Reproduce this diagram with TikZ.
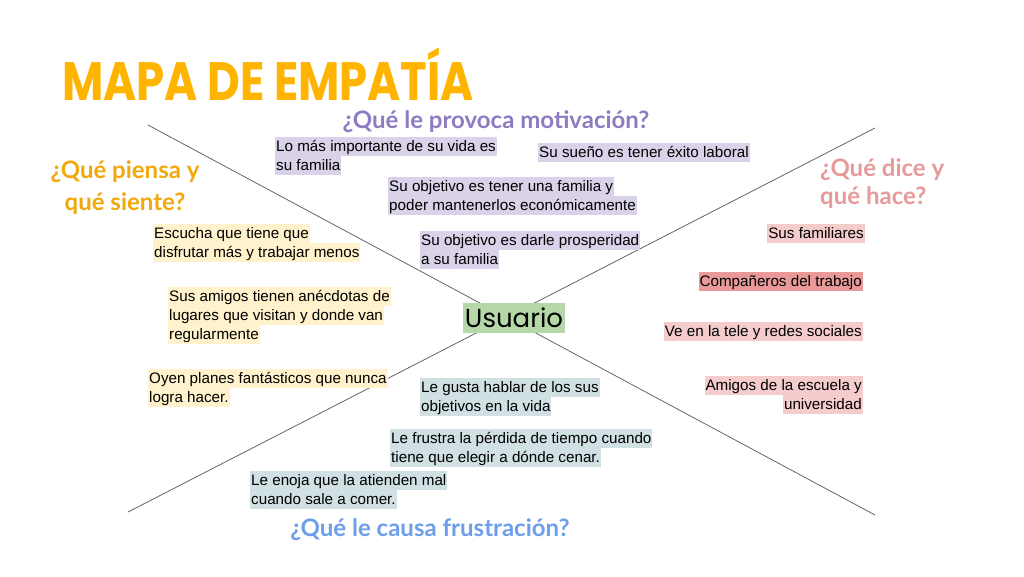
\documentclass[tikz,border=0pt]{standalone}
\usepackage{fontspec}
\setmainfont{Liberation Sans}
\newfontfamily\headfont{Lato}
\newfontfamily\titlefont{Poppins}
\usepackage{xcolor}

\definecolor{titleorange}{HTML}{FFB400}
\definecolor{thinkorange}{HTML}{F1A80A}
\definecolor{motivpurple}{HTML}{8E7CC3}
\definecolor{sayred}{HTML}{E69A9A}
\definecolor{frustblue}{HTML}{6D9EEB}
\definecolor{hlpurple}{HTML}{D9D2E9}
\definecolor{hlyellow}{HTML}{FFF2CC}
\definecolor{hlred}{HTML}{F4CCCC}
\definecolor{hlreddark}{HTML}{EA9999}
\definecolor{hlblue}{HTML}{D0E0E3}
\definecolor{hlgreen}{HTML}{B6D7A8}
\definecolor{crossgray}{HTML}{666666}

% one highlighted line of text
\newcommand{\hlbox}[2]{{\setlength{\fboxsep}{1pt}\colorbox{#1}{\rule[-3.5pt]{0pt}{17pt}#2}}}

\begin{document}
\begin{tikzpicture}[x=1pt, y=-1pt,
    note/.style={font=\fontsize{15.2}{19}\selectfont, inner sep=0pt, align=left, anchor=north west},
    noteright/.style={note, align=right, anchor=north east},
    heading/.style={font=\headfont\bfseries\fontsize{24}{32}\selectfont, inner sep=0pt, align=center}]
    % Canvas
    \fill[white] (0,0) rectangle (1024,576);
    \useasboundingbox (0,0) rectangle (1024,576);

    % Title
    \node[font=\titlefont\bfseries\fontsize{45}{50}\selectfont, text=titleorange, anchor=base west, inner sep=0pt] (title) at (62,100) {\scalebox{1}[1.2]{MAPA DE EMPATÍA}};

    % Draw the two crossing lines
    \coordinate (tl) at (148,125);
    \coordinate (br) at (875,515);
    \coordinate (tr) at (875,128);
    \coordinate (bl) at (128,512);
    \draw[crossgray, line width=0.8pt] (tl) -- (br);
    \draw[crossgray, line width=0.8pt] (tr) -- (bl);

    % Center
    \node[fill=hlgreen, font=\titlefont\fontsize{26}{30}\selectfont, minimum width=102pt, minimum height=30pt, inner sep=0pt] (usuario) at (514,318) {Usuario};

    % Headings
    \node[heading, text=motivpurple] (motiv) at (496,122) {¿Qué le provoca motivación?};
    \node[heading, text=thinkorange] (think) at (125,188) {¿Qué piensa y\\qué siente?};
    \node[heading, text=sayred, align=left, anchor=west, font=\headfont\bfseries\fontsize{24}{28}\selectfont] (say) at (820,184) {¿Qué dice y\\qué hace?};
    \node[heading, text=frustblue] (frust) at (430,530) {¿Qué le causa frustración?};

    % Motivation (top)
    \node[note] (mot1) at (275,136.5) {\hlbox{hlpurple}{Lo más importante de su vida es}\\\hlbox{hlpurple}{su familia}};
    \node[note] (mot2) at (538,142.5) {\hlbox{hlpurple}{Su sueño es tener éxito laboral}};
    \node[note] (mot3) at (388,176.5) {\hlbox{hlpurple}{Su objetivo es tener una familia y}\\\hlbox{hlpurple}{poder mantenerlos económicamente}};
    \node[note] (mot4) at (420,230.5) {\hlbox{hlpurple}{Su objetivo es darle prosperidad}\\\hlbox{hlpurple}{a su familia}};

    % Thinks and feels (left)
    \node[note] (thk1) at (153,223.5) {\hlbox{hlyellow}{Escucha que tiene que}\\\hlbox{hlyellow}{disfrutar más y trabajar menos}};
    \node[note] (thk2) at (168,286.5) {\hlbox{hlyellow}{Sus amigos tienen anécdotas de}\\\hlbox{hlyellow}{lugares que visitan y donde van}\\\hlbox{hlyellow}{regularmente}};
    \node[note] (thk3) at (148,368.5) {\hlbox{hlyellow}{Oyen planes fantásticos que nunca}\\\hlbox{hlyellow}{logra hacer.}};

    % Says and does (right)
    \node[noteright] (say1) at (865,223.5) {\hlbox{hlred}{Sus familiares}};
    \node[noteright] (say2) at (863,271.5) {\hlbox{hlreddark}{Compañeros del trabajo}};
    \node[noteright] (say3) at (863,321.5) {\hlbox{hlred}{Ve en la tele y redes sociales}};
    \node[noteright] (say4) at (863,375.5) {\hlbox{hlred}{Amigos de la escuela y}\\\hlbox{hlred}{universidad}};

    % Frustration (bottom)
    \node[note] (fru1) at (420,377.5) {\hlbox{hlblue}{Le gusta hablar de los sus}\\\hlbox{hlblue}{objetivos en la vida}};
    \node[note] (fru2) at (390,428.5) {\hlbox{hlblue}{Le frustra la pérdida de tiempo cuando}\\\hlbox{hlblue}{tiene que elegir a dónde cenar.}};
    \node[note] (fru3) at (250,470.5) {\hlbox{hlblue}{Le enoja que la atienden mal}\\\hlbox{hlblue}{cuando sale a comer.}};
\end{tikzpicture}
\end{document}
